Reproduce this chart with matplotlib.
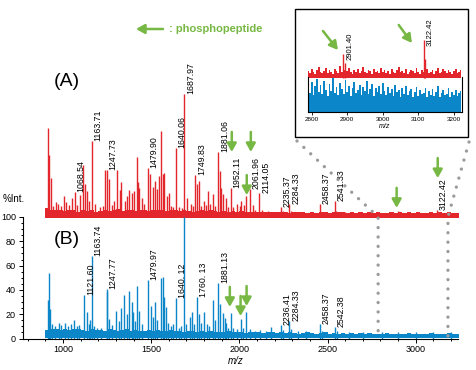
import matplotlib.pyplot as plt
from matplotlib.patches import Rectangle
from matplotlib.lines import Line2D
from matplotlib.ticker import MultipleLocator
import numpy as np

plt.rcParams['font.family'] = ['Liberation Sans', 'DejaVu Sans']

RED = '#e3262b'
BLUE = '#0b86c8'
GREEN = '#76b843'
GREY = '#9b9b9b'

# ---- spectrum (A), red: peak m/z and relative intensity ----
a_mz = [917, 922, 930, 945, 960, 973, 990, 1006, 1017, 1036, 1049, 1068.54, 1080, 1096,
        1115, 1126, 1134, 1145, 1163.71, 1183, 1209, 1225, 1240, 1247.73, 1261, 1275, 1289,
        1304, 1323, 1331, 1352, 1365, 1376, 1389, 1403, 1417, 1424, 1432, 1446, 1460,
        1479.90, 1493, 1508, 1521, 1531, 1546, 1553, 1565, 1572, 1587, 1600, 1610, 1625,
        1640.06, 1660, 1675, 1687.97, 1701, 1723, 1736, 1749.83, 1757, 1769, 1785, 1799,
        1812, 1823, 1835, 1848, 1862, 1881.06, 1888, 1895, 1908, 1923, 1935, 1952.11, 1965,
        1984, 2003, 2012, 2025, 2040, 2061.96, 2075, 2090, 2114.05, 2130, 2160, 2200,
        2235.37, 2245, 2284.33, 2295, 2350, 2400, 2458.37, 2470, 2541.33, 2550, 2600, 2680,
        2750, 2850, 2901.40, 2960, 3050, 3122.42, 3180]
a_int = [72, 50, 31, 8, 11, 10, 8, 16, 11, 9, 15, 19.5, 9, 17,
         42, 26, 20, 12, 61.5, 10, 7, 8, 37.5, 37.5, 30, 9, 12,
         37.5, 21, 28, 12, 16, 21, 19, 20, 48, 28, 23, 15, 10,
         39, 34, 24, 29, 22, 33, 70, 34, 35, 16, 19, 8, 7,
         55.5, 7, 6, 100, 15, 10, 8, 33.6, 26, 28.7, 8, 12,
         9, 20.5, 10, 18, 8, 52.7, 37, 23, 18, 15, 7, 23, 7,
         10, 8, 12, 9, 16, 22, 9, 5, 19, 5, 4, 3,
         7.5, 4, 10, 4, 3, 3, 10, 3, 12.3, 4, 3, 2.5,
         2.5, 2.5, 4, 2.5, 2.5, 4.5, 2.5]
a_labels = ['1068.54', '1163.71', '1247.73', '1479.90', '1640.06', '1687.97', '1749.83',
            '1881.06', '1952.11', '2061.96', '2114.05', '2235.37', '2284.33', '2458.37',
            '2541.33', '3122.42']

# ---- spectrum (B), blue ----
b_mz = [916, 920, 925, 940, 955, 975, 990, 1011, 1030, 1048, 1064, 1080, 1091, 1121.60,
        1135, 1145, 1155, 1163.74, 1175, 1195, 1215, 1247.77, 1252, 1261, 1280, 1300, 1318,
        1331, 1345, 1365, 1376, 1389, 1395, 1408, 1417, 1433, 1450, 1479.97, 1497, 1508,
        1521, 1535, 1553, 1565, 1572, 1582, 1595, 1610, 1625, 1640.12, 1655, 1670, 1687.9,
        1700, 1720, 1734, 1745, 1760.13, 1769, 1785, 1800, 1815, 1830, 1852, 1862, 1881.13,
        1888, 1905, 1918, 1924, 1935, 1951, 1965, 1985, 2007, 2022, 2040, 2060, 2090, 2115,
        2150, 2182, 2236.41, 2245, 2284.33, 2295, 2330, 2380, 2458.37, 2470, 2542.38, 2555,
        2620, 2700, 2810, 2900, 3000, 3100, 3200]
b_int = [32, 54, 24, 12, 10, 13, 11, 13, 10, 12, 15, 10, 11, 36,
         22, 12, 15, 67.5, 10, 9, 9, 41, 38, 16, 11, 23, 14,
         25, 36, 20, 39.5, 30, 22, 14, 43.6, 23, 12, 48.3, 27, 18,
         30, 15, 50, 51, 34, 26, 13, 10, 12, 33.5, 9, 10, 100,
         12, 17.6, 21.7, 12, 34, 20, 13, 22, 12, 10, 32, 15, 45.5,
         28.6, 20.6, 16.5, 12.6, 9, 20.6, 9, 8, 15.8, 9, 21.4, 8, 6, 7,
         6, 9.4, 10.8, 7, 14.8, 8, 6, 6, 11.6, 6, 9.4, 6,
         5.5, 5.5, 5, 5.5, 5, 5.5, 5]
b_labels = ['1121.60', '1163.74', '1247.77', '1479.97', '1640. 12', '1760. 13', '1881.13',
            '2236.41', '2284.33', '2458.37', '2542.38']

# baseline noise level, 25 m/z bins from 900
noise_start, noise_step = 900, 25
a_noise = [6, 5, 4.5, 5,
           4, 5, 4.5, 3.5, 5, 4, 4.5, 3.5,
           4, 5, 4, 4.5, 5.5, 4, 5, 4.5, 4, 5, 4.5, 4,
           5, 4.5, 5, 4, 4.5, 5, 4, 4.5, 4, 3.5, 4, 4.5,
           4, 4.5, 4, 3.5, 4, 3.5, 4, 3.5, 4, 3, 3.5, 3,
           3.5, 3, 3.5, 3, 3, 3.5, 3, 2.5, 3, 3.5, 3, 2.5,
           3, 2.5, 3, 3, 2.5, 3, 3.5, 3, 2.5, 3, 2.5, 3,
           2.5, 3, 2.5, 3, 2.5, 2.5, 3, 2.5, 3, 2.5, 3, 2.5,
           3, 2.5, 2.5, 3, 2.5, 3, 2.5, 3, 2.5, 2]
b_noise = [7, 8, 7.5, 7,
           8, 7, 7.5, 8, 7, 6.5, 7.5, 7,
           7, 6.5, 7.5, 7, 6, 7, 7.5, 6.5, 7, 6, 6.5, 7,
           6.5, 7, 6, 6.5, 7, 6, 6.5, 5.5, 6, 6.5, 5.5, 6,
           5.5, 6, 5.5, 5, 5.5, 6, 5, 5.5, 5, 4.5, 5, 5.5,
           5, 4.5, 5, 5.5, 4.5, 5, 4.5, 5, 4.5, 4, 4.5, 5,
           4.5, 4, 4.5, 5, 4, 4.5, 4, 4.5, 4, 4.5, 4, 4.5,
           4, 4.5, 4, 3.5, 4, 4.5, 4, 4, 3.5, 4, 4.5, 4,
           4, 3.5, 4, 4.5, 4, 3.5, 4, 4.5, 4, 3.5]

# arrows marking phosphopeptides (m/z, tip height)
a_arrows = [(1957, 52.5), (2065, 52.5), (2042, 17), (2892, 6.5), (3125, 31)]
b_arrows = [(1946, 26), (2007, 18.5), (2041, 26.7)]

# inset (2800-3220 zoom), 5 m/z samples from 2790
inset_start, inset_step = 2790, 5
inset_blue = [24, 19, 30, 17, 26, 33, 20, 27, 18, 31, 22, 16, 28, 21, 34, 19, 25, 17, 29, 23,
              18, 32, 20, 26, 16, 24, 30, 19, 22, 27, 17, 25, 21, 31, 18, 23, 28, 16, 24, 20,
              26, 18, 29, 21, 17, 25, 19, 23, 16, 27, 20, 22, 15, 24, 18, 26, 17, 21, 23, 15,
              20, 25, 16, 22, 18, 19, 24, 15, 21, 17, 23, 16, 20, 26, 15, 19, 22, 17, 18, 24,
              15, 20, 17, 22, 16, 19, 21]
inset_red = [7, 5, 9, 6, 4, 8, 11, 6, 5, 7, 10, 5, 8, 6, 4, 9, 7, 5, 12, 6,
             8, 5, 7, 10, 6, 4, 8, 6, 9, 5, 7, 11, 6, 5, 8, 7, 4, 9, 6, 7,
             5, 10, 6, 8, 5, 7, 4, 9, 6, 5, 8, 11, 6, 7, 5, 9, 4, 6, 8, 7,
             5, 10, 6, 4, 8, 6, 7, 9, 5, 6, 8, 4, 7, 10, 5, 6, 9, 7, 5, 8,
             6, 4, 7, 9, 5, 6, 8]
inset_peak_mz = [2888, 2893, 3115, 3119]
inset_peak_int = [24, 15, 38, 19]
inset_labels = [(2888, '2901.40'), (3115, '3122.42')]
inset_arrows = [((2832, 81), (2874, 62)), ((3045, 87), (3082, 69))]

# zoom window marked on main spectrum
zoom_lo, zoom_hi = 2787, 3183

A_OFF = 101
W, H = 476, 370
fig = plt.figure(figsize=(W / 100, H / 100), dpi=100)


def fx(px):
    return px / W


def fy(py):
    return 1 - py / H


ax = fig.add_axes([fx(23), fy(338.5), fx(458 - 23), 338.5 / H])
ax.patch.set_visible(False)
ax.set_xlim(773, 3240)
ax.set_ylim(0, 338.5 / 1.215)

edges = noise_start + noise_step * np.arange(len(a_noise) + 1)
ax.fill_between(edges, 0, np.append(b_noise, b_noise[-1]), step='post', color=BLUE, lw=0)
ax.vlines(b_mz, 0, b_int, color=BLUE, lw=1.0)
ax.fill_between(edges, A_OFF - 1.5, A_OFF + np.append(a_noise, a_noise[-1]), step='post',
                color=RED, lw=0)
ax.vlines(a_mz, A_OFF, A_OFF + np.array(a_int), color=RED, lw=1.0)

lab_kw = dict(textcoords='offset points', xytext=(1.2, 0), rotation=90, ha='left',
              va='bottom', fontsize=6.3)
for txt in a_labels:
    i = int(np.argmin(np.abs(np.array(a_mz) - float(txt.replace(' ', '')))))
    ax.annotate(txt, (a_mz[i], A_OFF + a_int[i]), **lab_kw)
for txt in b_labels:
    i = int(np.argmin(np.abs(np.array(b_mz) - float(txt.replace(' ', '')))))
    ax.annotate(txt, (b_mz[i], b_int[i]), **lab_kw)

arr_kw = dict(arrowstyle='-|>,head_width=0.28,head_length=0.5', color=GREEN, lw=1.8,
              shrinkA=0, shrinkB=0)
for mz, tip in a_arrows:
    ax.annotate('', xy=(mz, A_OFF + tip), xytext=(mz, A_OFF + tip + 16.5), arrowprops=arr_kw)
for mz, tip in b_arrows:
    ax.annotate('', xy=(mz, tip), xytext=(mz, tip + 16.5), arrowprops=arr_kw)

for s in ['top', 'right']:
    ax.spines[s].set_visible(False)
ax.spines['left'].set_bounds(0, 100)
ax.spines['left'].set_linewidth(0.8)
ax.spines['bottom'].set_linewidth(0.8)
ax.set_yticks(range(0, 101, 20))
ax.set_yticks([v for v in range(0, 101, 5) if v % 20], minor=True)
ax.xaxis.set_major_locator(MultipleLocator(500))
ax.xaxis.set_minor_locator(MultipleLocator(100))
ax.tick_params(which='both', labelsize=6.5, width=0.7, direction='out', pad=2)
ax.tick_params(which='major', length=3)
ax.tick_params(which='minor', length=1.5)
ax.set_xlabel('m/z', fontsize=7, style='italic')
ax.xaxis.set_label_coords((236 - 23) / 435, -0.052)

fig.text(fx(3), fy(199), '%Int.', fontsize=7, va='center', ha='left')
fig.text(fx(67), fy(81), '(A)', fontsize=14, va='center', ha='center')
fig.text(fx(67), fy(240), '(B)', fontsize=14, va='center', ha='center')

# legend
ax.annotate('', xy=(fx(136), fy(29)), xytext=(fx(163), fy(29)), xycoords='figure fraction',
            arrowprops=arr_kw)
fig.text(fx(169), fy(29), ': phosphopeptide', color=GREEN, fontweight='bold', fontsize=8,
         va='center', ha='left')

# inset box
box = Rectangle((fx(295), fy(137)), fx(468 - 295), (137 - 9) / H, transform=fig.transFigure,
                facecolor='white', edgecolor='black', lw=1.0, zorder=1)
fig.add_artist(box)

axin = fig.add_axes([fx(307.7), fy(112), fx(154), (112 - 15) / H], zorder=3)
axin.patch.set_visible(False)
axin.set_xlim(2789, 3222)
axin.set_ylim(0, 97)
ix = inset_start + inset_step * np.arange(len(inset_blue))
axin.fill_between(ix, 0, inset_blue, step='mid', color=BLUE, lw=0)
axin.fill_between(ix, 34, 34 + np.array(inset_red), step='mid', color=RED, lw=0)
axin.vlines(inset_peak_mz, 34, 34 + np.array(inset_peak_int), color=RED, lw=1.0)
for mz, txt in inset_labels:
    j = inset_peak_mz.index(mz)
    axin.annotate(txt, (mz, 34 + inset_peak_int[j]), textcoords='offset points',
                  xytext=(2.5, -4), rotation=90, ha='left', va='bottom', fontsize=5.5)
for tail, head in inset_arrows:
    axin.annotate('', xy=head, xytext=tail, arrowprops=arr_kw, annotation_clip=False)
axin.spines['top'].set_visible(False)
axin.spines['left'].set_bounds(0, 35)
axin.spines['right'].set_bounds(0, 35)
for s in ['left', 'right', 'bottom']:
    axin.spines[s].set_linewidth(0.8)
axin.set_yticks([])
axin.xaxis.set_major_locator(MultipleLocator(100))
axin.tick_params(axis='x', labelsize=4.6, length=2, width=0.6, pad=1.5)
axin.set_xlabel('m/z', fontsize=5, style='italic', labelpad=0.5)

# dotted connectors from zoom window to inset
to_fig = ax.transData + fig.transFigure.inverted()
for mz, top_px in [(zoom_lo, (297, 141)), (zoom_hi, (469, 142))]:
    p_mid = to_fig.transform((mz, 100))
    p_bot = to_fig.transform((mz, 2))
    xs = [fx(top_px[0]), p_mid[0], p_bot[0]]
    ys = [fy(top_px[1]), p_mid[1], p_bot[1]]
    fig.add_artist(Line2D(xs, ys, transform=fig.transFigure, color=GREY, lw=2.4,
                          linestyle=(0, (0.01, 2.8)), dash_capstyle='round', zorder=2))

fig.savefig('out.png', dpi=100)
